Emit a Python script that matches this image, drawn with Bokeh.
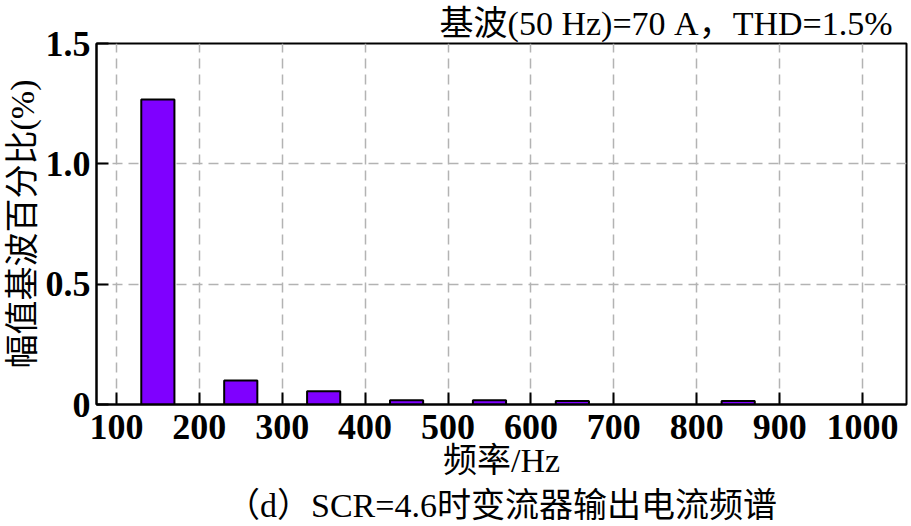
from bokeh.plotting import figure
from bokeh.models import ColumnDataSource, FixedTicker, Title, Range1d
from bokeh.embed import file_html
from bokeh.resources import INLINE

freqs = [150, 250, 350, 450, 550, 650, 850]
values = [1.267, 0.10, 0.055, 0.018, 0.018, 0.015, 0.015]
x_ticks = [100, 200, 300, 400, 500, 600, 700, 800, 900, 1000]
y_ticks = [0, 0.5, 1.0, 1.5]
y_tick_labels = {0: "0", 0.5: "0.5", 1.0: "1.0", 1.5: "1.5"}
bar_width = 40

FONT = "'Liberation Serif', 'Times New Roman', 'Noto Sans CJK SC', serif"

p = figure(width=911, height=526, output_backend="svg", toolbar_location=None,
           x_range=Range1d(76, 1053), y_range=Range1d(0, 1.5),
           min_border_left=96, min_border_right=5, min_border_top=43, min_border_bottom=0)

src = ColumnDataSource(dict(x=freqs, top=values))
p.vbar(x="x", top="top", width=bar_width, bottom=0, source=src,
       fill_color="#7F00FF", line_color="black", line_width=2)

p.xaxis.ticker = FixedTicker(ticks=x_ticks)
p.yaxis.ticker = FixedTicker(ticks=y_ticks)
p.yaxis.major_label_overrides = y_tick_labels

for ax in (p.xaxis, p.yaxis):
    ax.major_tick_in = 12
    ax.major_tick_out = 0
    ax.minor_tick_in = 0
    ax.minor_tick_out = 0
    ax.major_tick_line_color = "black"
    ax.major_tick_line_width = 2
    ax.axis_line_color = "black"
    ax.axis_line_width = 2
    ax.major_label_text_font = FONT
    ax.major_label_text_font_size = "36px"
    ax.major_label_text_font_style = "bold"
    ax.major_label_text_color = "black"
    ax.axis_label_text_font = FONT
    ax.axis_label_text_font_size = "34px"
    ax.axis_label_text_font_style = "normal"
    ax.axis_label_text_color = "black"

p.xaxis.major_label_standoff = 10
p.yaxis.major_label_standoff = 6
p.xaxis.axis_label = "频率/Hz"
p.xaxis.axis_label_standoff = 0
p.yaxis.axis_label = "幅值基波百分比(%)"
p.yaxis.axis_label_standoff = 2

p.xgrid.grid_line_color = "#b3b3b3"
p.ygrid.grid_line_color = "#b3b3b3"
p.xgrid.grid_line_dash = "10 6"
p.ygrid.grid_line_dash = "10 6"
p.xgrid.grid_line_width = 1.5
p.ygrid.grid_line_width = 1.5

p.outline_line_color = "black"
p.outline_line_width = 2
p.background_fill_color = "white"
p.border_fill_color = "white"

top_title = Title(text="基波(50 Hz)=70 A，THD=1.5%", align="right",
                  text_font=FONT, text_font_size="34px", text_font_style="normal",
                  text_color="black", offset=14, standoff=4)
p.add_layout(top_title, "above")

caption = Title(text="（d）SCR=4.6时变流器输出电流频谱", align="center",
                text_font=FONT, text_font_size="34px", text_font_style="normal",
                text_color="black", standoff=6)
p.add_layout(caption, "below")

open("out.html", "w").write(file_html(p, INLINE))
